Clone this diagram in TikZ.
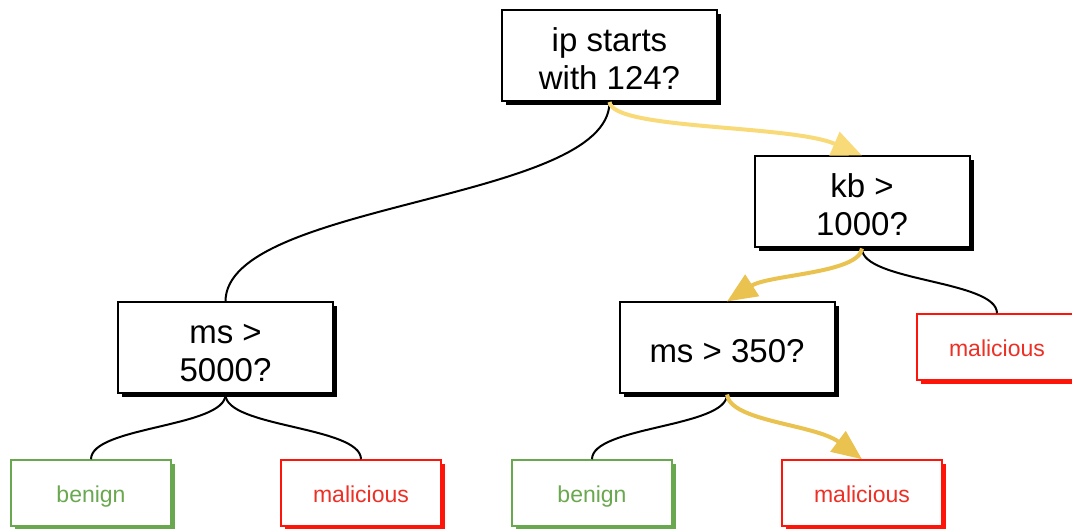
\documentclass[tikz,border=0pt]{standalone}
\usepackage{fontspec}
\setmainfont{Liberation Sans}
\usetikzlibrary{arrows.meta,shadows}

\definecolor{benigngreen}{RGB}{106,168,79}
\definecolor{malred}{RGB}{255,20,10}
\definecolor{maltext}{RGB}{236,48,38}
\definecolor{pathlight}{RGB}{249,218,120}
\definecolor{pathdark}{RGB}{234,194,80}

% question text: centred lines with even strut spacing, set a little low in the box
\newcommand\qlines[1]{\raisebox{0pt}[\dimexpr\height+14pt\relax][\depth]{\begin{tabular}{@{}c@{}}#1\end{tabular}}}

\begin{document}
\begin{tikzpicture}[x=1pt,y=-1pt,
  decision/.style={draw=black, line width=2pt, fill=white,
    minimum width=215pt, minimum height=91pt, inner sep=0pt,
    font=\fontsize{33}{38}\selectfont,
    drop shadow={shadow xshift=4pt, shadow yshift=-4pt, fill=black, opacity=1}},
  leaf/.style={line width=1.5pt, fill=white,
    minimum width=160pt, minimum height=66pt, inner sep=0pt,
    text height=20pt, text depth=0pt,
    font=\fontsize{23}{27}\selectfont},
  benign/.style={leaf, draw=benigngreen, text=benigngreen,
    drop shadow={shadow xshift=4pt, shadow yshift=-4pt, fill=benigngreen, opacity=1}},
  malicious/.style={leaf, draw=malred, text=maltext,
    drop shadow={shadow xshift=4pt, shadow yshift=-4pt, fill=malred, opacity=1}},
  link/.style={line width=2pt, draw=black},
  hot/.style={line width=4pt, -{Triangle[length=30pt,width=25pt]}},
]
\clip (0,0) rectangle (1072,529);

% decision nodes
\node[decision] (root)   at (609.5,55.5) {\qlines{ip starts\\with 124?}};
\node[decision] (kb)     at (862,202)    {\qlines{kb >\\1000?}};
\node[decision] (ms5000) at (225.5,348)  {\qlines{ms >\\5000?}};
\node[decision] (ms350)  at (727,348)    {\qlines{ms > 350?}};

% leaves
\node[malicious] (malA)    at (997,347)  {malicious};
\node[benign]    (benignA) at (91,493)   {benign};
\node[malicious] (malB)    at (361,493)  {malicious};
\node[benign]    (benignB) at (592,493)  {benign};
\node[malicious] (malC)    at (862,493)  {malicious};

% plain branches
\draw[link] (root.south) .. controls +(0,100) and +(0,-100) .. (ms5000.north);
\draw[link] (kb.south) .. controls +(0,33) and +(0,-33) .. (malA.north);
\draw[link] (ms5000.south) .. controls +(0,33) and +(0,-33) .. (benignA.north);
\draw[link] (ms5000.south) .. controls +(0,33) and +(0,-33) .. (malB.north);
\draw[link] (ms350.south) .. controls +(0,33) and +(0,-33) .. (benignB.north);

% highlighted decision path
\draw[hot, draw=pathlight]
  (root.south) .. controls +(3,28) and +(-72,-31) .. (kb.north);
\draw[hot, draw=pathdark]
  (kb.south) .. controls +(-3,25) and +(42,-27) .. (ms350.north);
\draw[hot, draw=pathdark]
  (ms350.south) .. controls +(3,27) and +(-47,-35) .. (malC.north);
\end{tikzpicture}
\end{document}
